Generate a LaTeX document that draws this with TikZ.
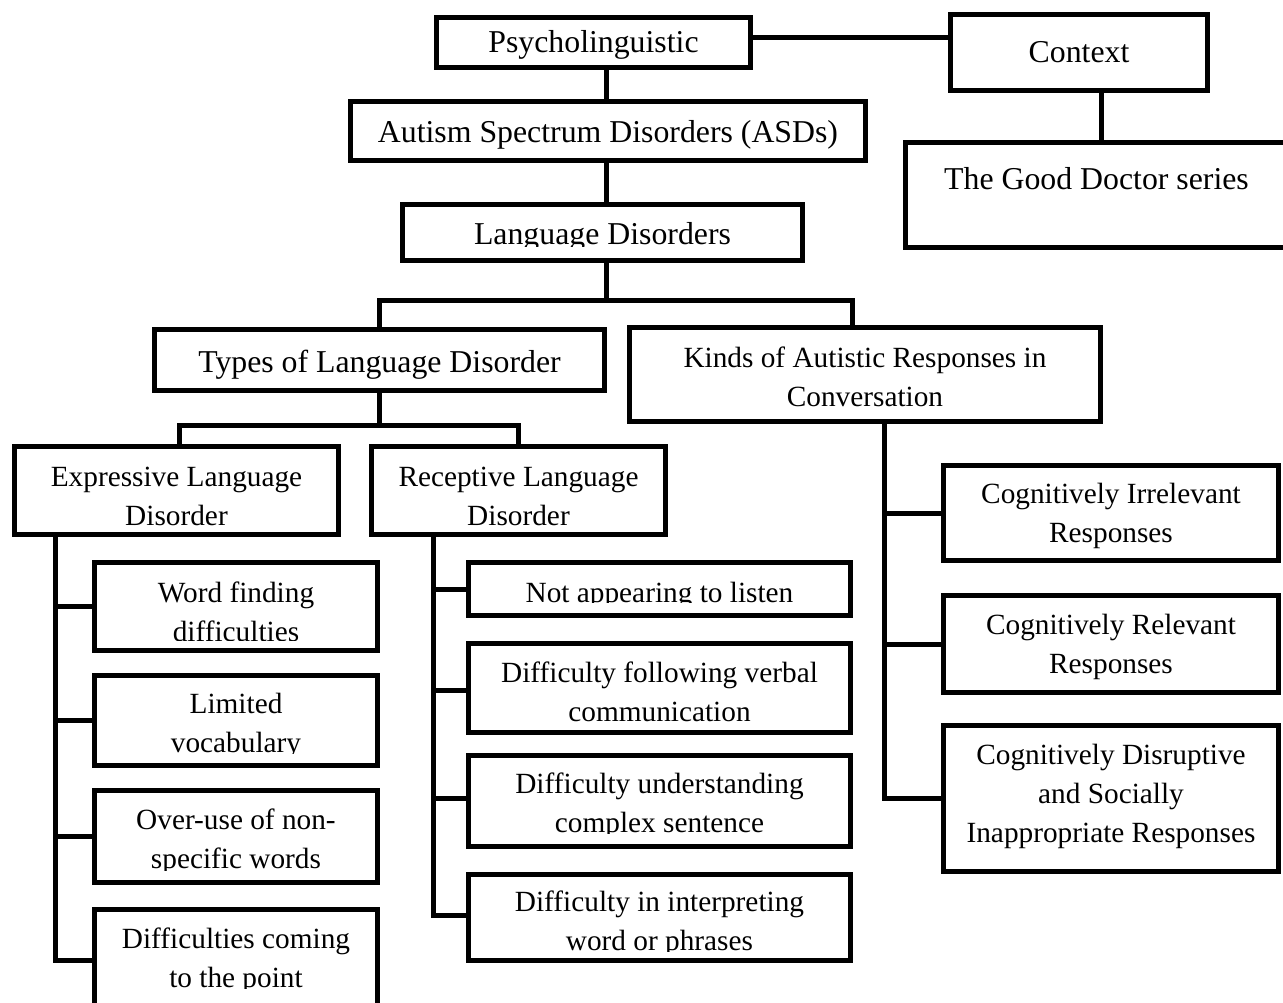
\documentclass[tikz,border=0pt]{standalone}
\usepackage{fontspec}
\setmainfont{Liberation Serif}
\newcommand{\bigf}{\fontsize{31.8pt}{39pt}\selectfont}
\newcommand{\smallf}{\fontsize{29.3pt}{39pt}\selectfont}
\newcommand{\tb}[2]{\raisebox{-#1}[0pt][0pt]{\begin{tabular}[t]{@{}c@{}}#2\end{tabular}}}
\tikzset{
  box/.style={draw=black, line width=5pt, rectangle, inner sep=0pt, fill=white},
  big/.style={font=\bigf},
  small/.style={font=\smallf},
  conn/.style={draw=black, line width=5pt},
  cut/.style={fill=white}
}
\begin{document}
\begin{tikzpicture}[x=1pt,y=-1pt]
\useasboundingbox (0,0) rectangle (1283,1003);
\clip (0,0) rectangle (1283,1003);
\fill[white] (0,0) rectangle (1283,1003);

% level coordinates
\coordinate (vx) at (606,0);
\coordinate (hy) at (0,38);
\coordinate (bar) at (0,300);
\coordinate (kj) at (852,0);
\coordinate (sbar) at (0,425);
\coordinate (ex) at (55.5,0);
\coordinate (rx) at (433.5,0);
\coordinate (kx) at (884,0);
\coordinate (gx) at (1101,0);
\coordinate (ex1) at (179.5,0);
\coordinate (rx1) at (518.5,0);

% top
\node[box, big, minimum width=314pt, minimum height=50pt] (psy) at (593.5,42.5) {\tb{10.5pt}{Psycholinguistic}};
\node[box, big, minimum width=257pt, minimum height=76pt] (ctx) at (1079,52.5) {\tb{10.5pt}{Context}};
\node[box, big, minimum width=515pt, minimum height=59pt] (asd) at (608,131) {\tb{12pt}{Autism Spectrum Disorders (ASDs)}};
\node[box, big, minimum width=382pt, minimum height=105pt] (gd) at (1096.5,195) {\tb{-5pt}{The Good Doctor series}};
\node[box, big, minimum width=400pt, minimum height=56pt] (ld) at (602.5,232.5) {\tb{12.5pt}{Language Disorders}};
\node[box, big, minimum width=450pt, minimum height=61pt] (types) at (379.5,360) {\tb{12pt}{Types of Language Disorder}};
\node[box, small, minimum width=471pt, minimum height=94pt] (kinds) at (865,374.5) {\tb{-7.5pt}{Kinds of Autistic Responses in\\Conversation}};

% second level
\node[box, small, minimum width=324pt, minimum height=88pt] (expr) at (176.5,490.5) {\tb{-4.5pt}{Expressive Language\\Disorder}};
\node[box, small, minimum width=294pt, minimum height=88pt] (recep) at (518.5,490.5) {\tb{-4.5pt}{Receptive Language\\Disorder}};

% expressive children
\node[box, small, minimum width=283pt, minimum height=88pt] (wf) at (236,606.5) {\tb{-4.5pt}{Word finding\\difficulties}};
\node[box, small, minimum width=283pt, minimum height=90pt] (lim) at (236,720.5) {\tb{-7.5pt}{Limited\\vocabulary}};
\node[box, small, minimum width=283pt, minimum height=92pt] (over) at (236,836.5) {\tb{-7.5pt}{Over-use of non-\\specific words}};
\node[box, small, minimum width=283pt, minimum height=108pt] (dcp) at (236,963.5) {\tb{-15.5pt}{Difficulties coming\\to the point}};

% receptive children
\node[box, small, minimum width=382pt, minimum height=53pt] (nal) at (659.5,589) {\tb{13pt}{Not appearing to listen}};
\node[box, small, minimum width=382pt, minimum height=89pt] (dfv) at (659.5,688) {\tb{-6pt}{Difficulty following verbal\\communication}};
\node[box, small, minimum width=382pt, minimum height=91pt] (dus) at (659.5,801) {\tb{-7.5pt}{Difficulty understanding\\complex sentence}};
\node[box, small, minimum width=382pt, minimum height=86pt] (dip) at (659.5,917.5) {\tb{-6.5pt}{Difficulty in interpreting\\word or phrases}};

% kinds children
\node[box, small, minimum width=335pt, minimum height=95pt] (cir) at (1111,513) {\tb{-9.5pt}{Cognitively Irrelevant\\Responses}};
\node[box, small, minimum width=335pt, minimum height=97pt] (cre) at (1111,644) {\tb{-10pt}{Cognitively Relevant\\Responses}};
\node[box, small, minimum width=335pt, minimum height=146pt] (cdr) at (1111,798.5) {\tb{-34.5pt}{Cognitively Disruptive\\and Socially\\Inappropriate Responses}};

% clipped descenders (text box overflow in the original)
\fill[cut] (405,247) rectangle (800,258);
\fill[cut] (97,641) rectangle (375,648);
\fill[cut] (97,754) rectangle (375,763);
\fill[cut] (97,870.5) rectangle (375,880);
\fill[cut] (97,988.5) rectangle (375,1015);
\fill[cut] (471,603) rectangle (848,613);
\fill[cut] (471,834) rectangle (848,844);
\fill[cut] (471,952) rectangle (848,958);

% connectors
\draw[conn] (psy.east |- hy) -- (ctx.west |- hy);
\draw[conn] (psy.south -| vx) -- (asd.north -| vx);
\draw[conn] (asd.south -| vx) -- (ld.north -| vx);
\draw[conn] (ld.south -| vx) -- (vx |- bar);
\draw[conn] (ctx.south -| gx) -- (gx |- gd.north);
\draw[conn] (types.north) |- (kj |- bar) -- (kj |- kinds.north);
\draw[conn] (types.south) -- (types.south |- sbar);
\draw[conn] (ex1 |- expr.north) |- (rx1 |- sbar) -- (rx1 |- recep.north);

\draw[conn] (ex |- expr.south) |- ([yshift=3.5pt]dcp.west);
\draw[conn] (ex |- wf.west) -- (wf.west);
\draw[conn] (ex |- lim.west) -- (lim.west);
\draw[conn] (ex |- over.west) -- (over.west);

\draw[conn] (rx |- recep.south) |- ([yshift=2.5pt]dip.west);
\draw[conn] (rx |- nal.west) -- (nal.west);
\draw[conn] ([yshift=-2.5pt]rx |- dfv.west) -- ([yshift=-2.5pt]dfv.west);
\draw[conn] ([yshift=3pt]rx |- dus.west) -- ([yshift=3pt]dus.west);

\draw[conn] (kx |- kinds.south) |- (cdr.west);
\draw[conn] (kx |- cir.west) -- (cir.west);
\draw[conn] (kx |- cre.west) -- (cre.west);
\end{tikzpicture}
\end{document}
